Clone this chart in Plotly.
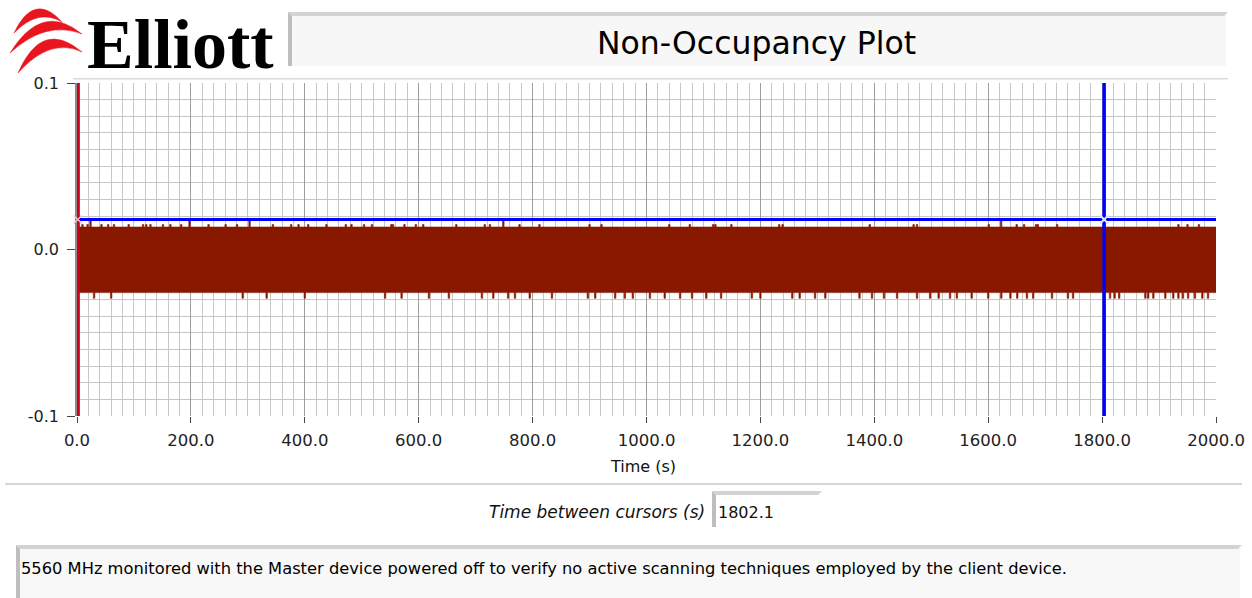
import plotly.graph_objects as go

# ---------------- data ----------------
x_tick_vals = [0, 200, 400, 600, 800, 1000, 1200, 1400, 1600, 1800, 2000]
x_tick_text = ["0.0", "200.0", "400.0", "600.0", "800.0", "1000.0",
               "1200.0", "1400.0", "1600.0", "1800.0", "2000.0"]
y_tick_vals = [-0.1, 0.0, 0.1]
y_tick_text = ["-0.1", "0.0", "0.1"]

signal_start = 1.6
signal_end = 2000.0
band_top = 0.0135          # typical upper envelope of the noise
band_bottom = -0.0259      # typical lower envelope of the noise

tall_up_times = [23.7, 197.6, 303.0, 748.6, 1622.7]
tall_up_value = 0.0171
small_up_times = [9.6, 18.6, 43, 54.7, 65, 90.7, 116, 121.6, 129, 151, 164, 183,
                  231, 261, 281, 344, 376, 389, 406, 438, 472, 482, 504, 518,
                  552, 555, 575, 595, 608, 666, 716, 725, 777, 812, 900, 921,
                  1040, 1076, 1117, 1121, 1149, 1233, 1239, 1392, 1469, 1475,
                  1601, 1650, 1663, 1684, 1687, 1721, 1934, 1950, 1970]
small_up_value = 0.0150
down_times = [30, 60, 291, 333, 400, 541, 570, 618, 653, 711, 731,
              757, 769, 795, 834, 897, 910, 945, 962, 976, 1006, 1032, 1059, 1080,
              1105, 1131, 1185, 1200, 1256, 1269, 1296, 1314, 1374, 1396, 1417,
              1440, 1475, 1498, 1513, 1533, 1545, 1571, 1600, 1623, 1639, 1651,
              1668, 1679, 1712, 1740, 1749, 1814, 1822, 1830, 1876, 1881, 1890,
              1911, 1925, 1934, 1942, 1951, 1963, 1976, 1986]
down_value = -0.0293
spike_half_width = 1.3

cursor_a_time = 1.5
cursor_b_time = 1803.6
cursor_level = 0.018

title_text = "Non-Occupancy Plot"
x_title = "Time (s)"
cursor_label = "Time between cursors (s)"
comment_text = ("5560 MHz monitored with the Master device powered off to verify "
                "no active scanning techniques employed by the client device.")

# ---------------- layout geometry ----------------
W, H = 1252, 598
ML, MR, MT, MB = 77, 36, 83, 182
PW, PH = W - ML - MR, H - MT - MB


def fx(px):
    return (px - ML) / PW


def fy(py):
    return (MT + PH - py) / PH


def pt(px, py):
    return f"{fx(px):.5f},{fy(py):.5f}"


FONT = "DejaVu Sans"
BAND_COLOR = "#881800"


# ---------------- build band polygon from envelope data ----------------
def envelope(base, spikes):
    xs, ys = [signal_start], [base]
    for t, v in spikes:
        xs += [t - spike_half_width, t - spike_half_width,
               t + spike_half_width, t + spike_half_width]
        ys += [base, v, v, base]
    xs.append(signal_end)
    ys.append(base)
    return xs, ys


up_spikes = sorted([(t, tall_up_value) for t in tall_up_times] +
                   [(t, small_up_value) for t in small_up_times])
dn_spikes = sorted([(t, down_value) for t in down_times])
ux, uy = envelope(band_top, up_spikes)
lx, ly = envelope(band_bottom, dn_spikes)
poly_x = ux + lx[::-1] + [ux[0]]
poly_y = uy + ly[::-1] + [uy[0]]

fig = go.Figure()
fig.add_trace(go.Scatter(x=poly_x, y=poly_y, mode="lines", fill="toself",
                         fillcolor=BAND_COLOR, line=dict(width=0.6, color=BAND_COLOR),
                         hoverinfo="skip", showlegend=False))

# cursor A (red)
fig.add_trace(go.Scatter(x=[0, 2000], y=[cursor_level, cursor_level], mode="lines",
                         line=dict(color="#D0001A", width=3), showlegend=False))
fig.add_trace(go.Scatter(x=[cursor_a_time, cursor_a_time], y=[-0.1, 0.1], mode="lines",
                         line=dict(color="#D0001A", width=4), showlegend=False))
# cursor B (blue)
fig.add_trace(go.Scatter(x=[0, 2000], y=[cursor_level, cursor_level], mode="lines",
                         line=dict(color="#0000FF", width=3), showlegend=False))
fig.add_trace(go.Scatter(x=[cursor_b_time, cursor_b_time], y=[-0.1, 0.1], mode="lines",
                         line=dict(color="#0000FF", width=3.5), showlegend=False))
fig.add_trace(go.Scatter(x=[cursor_a_time], y=[cursor_level], mode="markers",
                         marker=dict(symbol="x-thin", size=8, color="#FFFFFF",
                                     line=dict(color="#F0C0C8", width=1.5)),
                         cliponaxis=False, showlegend=False))
fig.add_trace(go.Scatter(x=[cursor_b_time], y=[cursor_level], mode="markers",
                         marker=dict(symbol="x-thin", size=8, color="#FFFFFF",
                                     line=dict(color="#DDE4FF", width=2)),
                         cliponaxis=False, showlegend=False))

# ---------------- decorations (panels, logo) ----------------
shapes = []


def poly(points, color):
    path = "M " + " L ".join(pt(x, y) for x, y in points) + " Z"
    shapes.append(dict(type="path", xref="paper", yref="paper", path=path,
                       fillcolor=color, line=dict(width=0), layer="above"))


def rect(x0, y0, x1, y1, color):
    poly([(x0, y0), (x1, y0), (x1, y1), (x0, y1)], color)


def bevel_box(x0, y0, x1, y1, fill, b=4):
    rect(x0, y0, x1, y1, fill)
    poly([(x0, y0), (x1 + 2, y0), (x1 - 2, y0 + b), (x0 + b, y0 + b)], "#D3D3D3")
    poly([(x0, y0), (x0 + b, y0 + b), (x0 + b, y1), (x0, y1)], "#BEBEBE")


# title panel
bevel_box(288, 12, 1226, 66, "#F7F7F7")
# thin line above plot
rect(73, 78, 1228, 79.5, "#DADADA")
# separator below axis
rect(5, 483, 1242, 485, "#D6D6D6")
# cursor value box
bevel_box(712, 491, 820, 527, "#FFFFFF", b=4)
# comment panel
bevel_box(16, 545, 1240, 600, "#F8F8F8")


# logo swooshes (crescents)
def crescent(tail, tip, c_out, c_in, color="#E8141E"):
    path = (f"M {pt(*tail)} Q {pt(*c_out)} {pt(*tip)} "
            f"Q {pt(*c_in)} {pt(*tail)} Z")
    shapes.append(dict(type="path", xref="paper", yref="paper", path=path,
                       fillcolor=color, line=dict(width=0.5, color=color), layer="above"))


crescent((14, 33), (62, 22), (34, -9), (38, 8))
crescent((10, 53), (82, 34), (42, 1), (46, 20))
crescent((18, 73), (82, 52), (42, 18), (50, 37))

annotations = [
    dict(text="<b>Elliott</b>", x=fx(180), y=fy(44), xref="paper", yref="paper",
         showarrow=False, xanchor="center", yanchor="middle",
         font=dict(family="Liberation Serif", size=70, color="#000000")),
    dict(text=title_text, x=fx(757), y=fy(43), xref="paper", yref="paper",
         showarrow=False, xanchor="center", yanchor="middle",
         font=dict(family=FONT, size=31.5, color="#000000")),
    dict(text=x_title, x=fx(643), y=fy(466), xref="paper", yref="paper",
         showarrow=False, xanchor="center", yanchor="middle",
         font=dict(family=FONT, size=16, color="#111111")),
    dict(text=f"<i>{cursor_label}</i>", x=fx(707), y=fy(512), xref="paper", yref="paper",
         showarrow=False, xanchor="right", yanchor="middle",
         font=dict(family=FONT, size=17, color="#111111")),
    dict(text=f"{cursor_b_time - cursor_a_time:.1f}", x=fx(716), y=fy(512),
         xref="paper", yref="paper", showarrow=False, xanchor="left", yanchor="middle",
         font=dict(family=FONT, size=16, color="#111111")),
    dict(text=comment_text, x=fx(19), y=fy(568), xref="paper", yref="paper",
         showarrow=False, xanchor="left", yanchor="middle",
         font=dict(family=FONT, size=16.3, color="#000000")),
]

fig.update_layout(
    width=W, height=H, autosize=False,
    margin=dict(l=ML, r=MR, t=MT, b=MB, pad=0, autoexpand=False),
    paper_bgcolor="#FFFFFF", plot_bgcolor="#FFFFFF",
    showlegend=False, shapes=shapes, annotations=annotations,
    font=dict(family=FONT, color="#222222"),
)
fig.update_xaxes(
    range=[0, 2000], tickmode="array", tickvals=x_tick_vals, ticktext=x_tick_text,
    ticks="outside", ticklen=6, tickcolor="#444444", tickwidth=1,
    tickfont=dict(family=FONT, size=16.5, color="#222222"), ticklabelstandoff=3,
    showgrid=True, gridcolor="#9E9E9E", gridwidth=1.2,
    minor=dict(tickmode="linear", tick0=0, dtick=20, showgrid=True,
               gridcolor="#C6C6C6", gridwidth=1.2, ticks=""),
    zeroline=False, showline=False, fixedrange=True, automargin=False,
    layer="below traces",
)
fig.update_yaxes(
    range=[-0.1, 0.1], tickmode="array", tickvals=y_tick_vals, ticktext=y_tick_text,
    ticks="outside", ticklen=8, tickcolor="#444444", tickwidth=1,
    tickfont=dict(family=FONT, size=16, color="#222222"), ticklabelstandoff=5,
    showgrid=True, gridcolor="#C6C6C6", gridwidth=1.2,
    minor=dict(tickmode="linear", tick0=0, dtick=0.01, showgrid=True,
               gridcolor="#C6C6C6", gridwidth=1.2, ticks=""),
    zeroline=False, showline=True, linecolor="#8C8C8C", linewidth=1.5, fixedrange=True,
    automargin=False, layer="below traces",
)

fig.write_html("out.html", config={"displayModeBar": False},
               post_script="document.body.style.margin='0';document.body.style.overflow='hidden';")
